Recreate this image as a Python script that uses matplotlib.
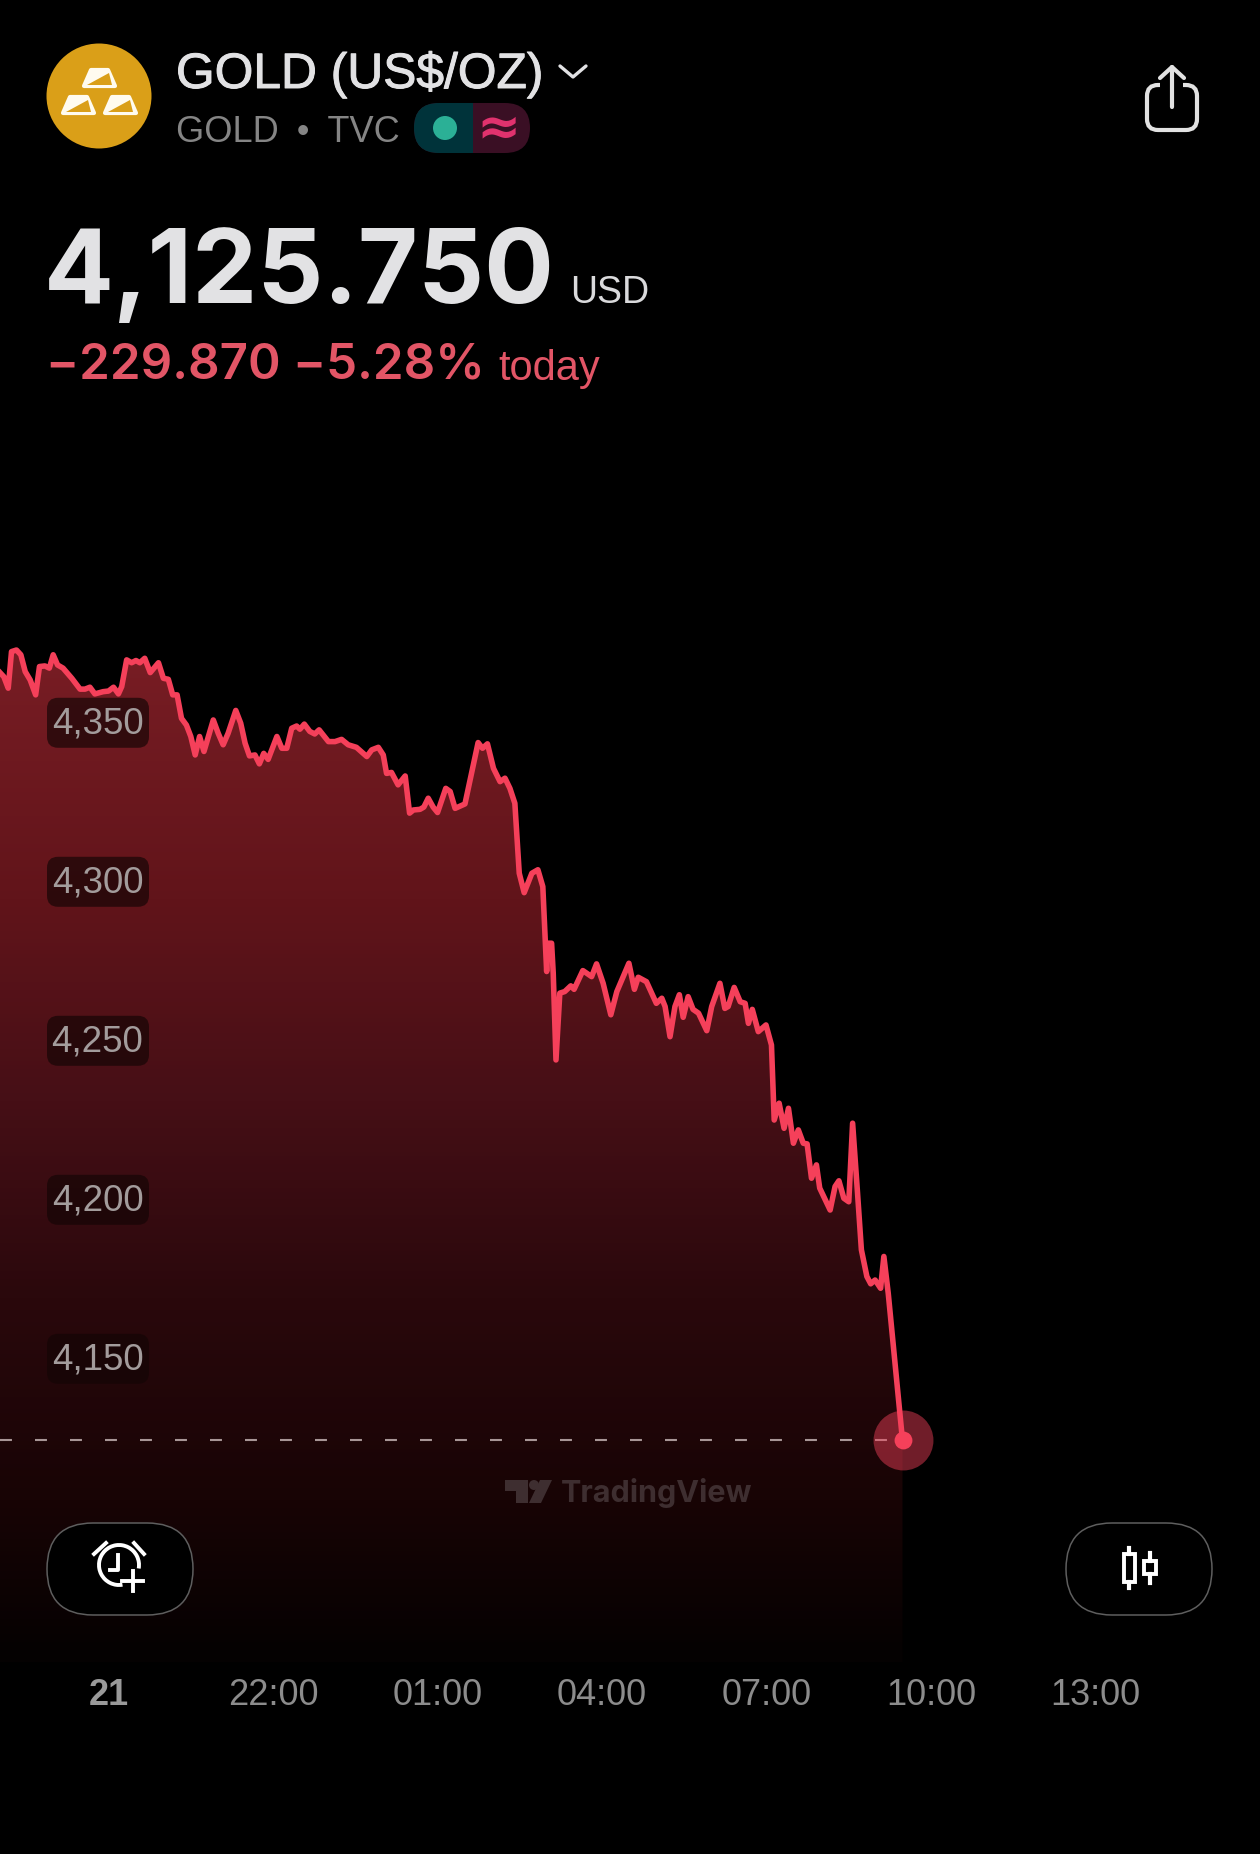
import matplotlib
matplotlib.use('Agg')
import matplotlib.pyplot as plt
import matplotlib.patheffects as pe
import numpy as np
from matplotlib.colors import LinearSegmentedColormap
from matplotlib.patches import Circle, FancyBboxPatch, Polygon, Arc, Rectangle
from matplotlib.transforms import blended_transform_factory

plt.rcParams['lines.scale_dashes'] = False

# hours after 00:00 on the 21st (25 = 01:00 next day)
hours = [17.02, 17.09, 17.17, 17.23, 17.32, 17.40, 17.48, 17.57, 17.67, 17.74, 17.84, 17.92, 17.99, 18.07, 18.17,
         18.33, 18.48, 18.57, 18.66, 18.75, 18.90, 19.00, 19.09, 19.18, 19.24, 19.33, 19.42, 19.50, 19.57, 19.66,
         19.76, 19.91, 20.00, 20.09, 20.17, 20.25, 20.33, 20.42, 20.50, 20.58, 20.66, 20.74, 20.82, 20.91, 21.00,
         21.09, 21.18, 21.32, 21.41, 21.49, 21.57, 21.67, 21.75, 21.83, 21.91, 22.07, 22.16, 22.25, 22.34, 22.43,
         22.49, 22.57, 22.67, 22.76, 22.84, 23.01, 23.13, 23.25, 23.37, 23.52, 23.71, 23.80, 23.92, 24.01, 24.07,
         24.16, 24.28, 24.41, 24.49, 24.56, 24.68, 24.75, 24.83, 24.92, 25.00, 25.15, 25.23, 25.32, 25.50, 25.74,
         25.82, 25.91, 26.02, 26.14, 26.23, 26.32, 26.41, 26.49, 26.58, 26.72, 26.83, 26.92, 26.99, 27.01, 27.08,
         27.11, 27.16, 27.23, 27.32, 27.43, 27.49, 27.65, 27.81, 27.90, 28.02, 28.16, 28.27, 28.49, 28.59, 28.66,
         28.81, 28.99, 29.09, 29.15, 29.24, 29.33, 29.41, 29.48, 29.57, 29.66, 29.76, 29.91, 30.00, 30.15, 30.24,
         30.30, 30.41, 30.52, 30.61, 30.67, 30.74, 30.85, 30.99, 31.09, 31.14, 31.23, 31.32, 31.40, 31.49, 31.58,
         31.67, 31.74, 31.82, 31.91, 31.97, 32.16, 32.25, 32.32, 32.41, 32.50, 32.57, 32.66, 32.73, 32.83, 32.90,
         32.98, 33.08, 33.14, 33.22, 33.48]
prices = [4367.2, 4365.9, 4362.3, 4373.8, 4374.3, 4372.8, 4367.5, 4364.9, 4360.2, 4369.1, 4369.3, 4368.6, 4372.8, 4369.6, 4368.6,
          4365.4, 4362.0, 4362.0, 4362.6, 4360.5, 4361.2, 4361.4, 4362.6, 4360.5, 4362.8, 4371.2, 4370.3, 4371.0, 4370.3, 4371.7,
          4367.2, 4370.3, 4365.4, 4365.1, 4360.2, 4360.2, 4352.8, 4350.7, 4347.1, 4341.3, 4347.1, 4342.4, 4347.1, 4352.3, 4348.1,
          4344.5, 4348.1, 4355.3, 4351.3, 4345.0, 4341.0, 4341.3, 4338.5, 4341.8, 4339.9, 4347.1, 4343.4, 4343.4, 4349.7, 4350.4,
          4349.4, 4351.0, 4348.7, 4347.9, 4349.2, 4345.5, 4345.5, 4346.2, 4344.5, 4343.7, 4340.8, 4342.9, 4343.7, 4341.3, 4335.5,
          4335.8, 4331.9, 4334.7, 4323.0, 4324.0, 4324.2, 4324.9, 4327.7, 4324.9, 4323.2, 4330.8, 4329.8, 4324.5, 4325.9, 4345.2,
          4343.4, 4344.8, 4337.1, 4332.9, 4334.0, 4330.8, 4326.1, 4304.1, 4298.0, 4304.1, 4305.2, 4299.9, 4273.2, 4282.1, 4282.1,
          4272.7, 4245.4, 4266.4, 4266.9, 4268.7, 4267.6, 4273.5, 4271.6, 4275.6, 4269.5, 4259.6, 4266.9, 4275.8, 4267.6, 4271.4,
          4270.0, 4263.2, 4264.8, 4262.2, 4252.7, 4262.2, 4265.9, 4258.8, 4265.3, 4261.3, 4260.1, 4254.6, 4262.2, 4269.5, 4261.6,
          4262.2, 4268.2, 4263.7, 4263.2, 4256.9, 4261.3, 4254.3, 4256.4, 4250.1, 4226.5, 4231.8, 4223.9, 4230.2, 4219.2, 4223.4,
          4219.2, 4219.0, 4208.2, 4212.4, 4205.1, 4198.2, 4205.6, 4207.4, 4201.9, 4200.8, 4225.5, 4203.5, 4185.7, 4177.3, 4175.0,
          4176.2, 4173.6, 4183.6, 4172.0, 4125.75]

y_ticks = [4350, 4300, 4250, 4200, 4150]
x_ticks = [19, 22, 25, 28, 31, 34, 37]
x_labels = ['21', '22:00', '01:00', '04:00', '07:00', '10:00', '13:00']

title = 'GOLD (US$/OZ)'
subtitle = 'GOLD\u2002•\u2002TVC'
last_price = '4,125.750'
change = '\u2212229.870 \u22125.28%'

RED = '#F5405A'
GOLD = '#DA9F18'

fig = plt.figure(figsize=(12.6, 18.54), dpi=100, facecolor='black')

# chart fills the whole figure, limits picked so the axis lines up with the screenshot
ax = fig.add_axes([0, 0, 1, 1])
ax.set_xlim(17.02, 40.0)
ax.set_ylim(3995.7, 4578.7)
ax.axis('off')

# ui layer in pixels, y going down
ui = fig.add_axes([0, 0, 1, 1], zorder=5)
ui.set_xlim(0, 1260)
ui.set_ylim(1854, 0)
ui.axis('off')
ui.patch.set_alpha(0)

# gradient under the line
base = 4056.0
fill = ax.fill_between(hours, prices, base, color='none', lw=0)
stops = [(0, (120, 29, 36)), (0.247, (97, 20, 26)), (0.445, (70, 15, 22)),
         (0.642, (42, 8, 12)), (0.84, (24, 4, 5)), (1, (4, 1, 1))]
cmap = LinearSegmentedColormap.from_list('fade', [(p, tuple(v / 255 for v in c)) for p, c in stops])
grad = np.linspace(0, 1, 256).reshape(-1, 1)
im = ax.imshow(grad, cmap=cmap, aspect='auto', origin='upper', zorder=1,
               extent=[17.02, hours[-1], base, 4374.0])
im.set_clip_path(fill.get_paths()[0], ax.transData)
ax.set_xlim(17.02, 40.0)
ax.set_ylim(3995.7, 4578.7)

ax.plot(hours, prices, color=RED, lw=4.0, solid_joinstyle='round', zorder=3)

# last price line and marker
ax.plot([17.02, hours[-1]], [prices[-1], prices[-1]], color='#A89696', lw=1.5,
        ls=(0, (8.6, 16.6)), zorder=2)
ax.scatter(hours[-1], prices[-1], s=1860, color=RED, alpha=0.46, lw=0, zorder=4)
ax.scatter(hours[-1], prices[-1], s=165, color=RED, lw=0, zorder=5)

# price labels, box drawn on the ui layer so its corners stay round
trans = blended_transform_factory(ui.transData, ax.transData)
to_ui = ui.transData.inverted()
for v in y_ticks:
    py = to_ui.transform(ax.transData.transform((20, v)))[1]
    ui.add_patch(FancyBboxPatch((47, py - 29.5), 102, 50, boxstyle='round,pad=0,rounding_size=11',
                                fc='#140505', ec='none', alpha=0.68))
    ui.annotate(f'{v:,}', xy=(97.5, v), xycoords=trans, xytext=(0, 2.6), textcoords='offset points',
                ha='center', va='center', fontsize=26.5, color='#A39C9C', family='Liberation Sans')

# time labels
trans2 = blended_transform_factory(ax.transData, ui.transData)
for h, lab in zip(x_ticks, x_labels):
    bold = lab == '21'
    ax.text(h, 1705, lab, transform=trans2, ha='center', va='baseline', fontsize=26,
            family='Liberation Sans', color='#9A9A9A' if bold else '#8C8C8C',
            fontweight='bold' if bold else 'normal')

# header
ui.add_patch(Circle((99, 96), 52.5, fc=GOLD, ec='none'))
for x0, y0 in [(82, 68), (61, 95), (103, 95)]:
    ui.add_patch(Polygon([(x0 + 9, y0 + 2), (x0 + 26, y0 + 2), (x0 + 33, y0 + 18), (x0 + 2, y0 + 18)],
                         fc='#FFFBEF', ec='#FFFBEF', lw=3, joinstyle='round'))
    ui.add_patch(Polygon([(x0 + 5, y0 + 17), (x0 + 27, y0 + 5), (x0 + 30, y0 + 17)], fc=GOLD, ec='none'))

ui.text(176, 88, title, fontsize=35.8, color='#E2E2E4', family='Liberation Sans', va='baseline',
        path_effects=[pe.withStroke(linewidth=0.7, foreground='#E2E2E4')])
ui.plot([560, 573, 586], [66, 77, 66], color='#E2E2E4', lw=2.4, solid_capstyle='round', solid_joinstyle='round')
ui.text(176, 142, subtitle, fontsize=26, color='#858585', family='Liberation Sans', va='baseline')

ui.add_patch(FancyBboxPatch((414, 103), 116, 50, boxstyle='round,pad=0,rounding_size=25', fc='#3A0F24', ec='none'))
left = FancyBboxPatch((414, 103), 116, 50, boxstyle='round,pad=0,rounding_size=25', fc='#00333A', ec='none')
ui.add_patch(left)
left.set_clip_path(Rectangle((414, 100), 59, 56, transform=ui.transData))
ui.add_patch(Circle((445, 128), 12, fc='#2BB096', ec='none'))
ui.text(499, 128, '\u2248', fontsize=38, color='#E0326E', ha='center', va='center', family='DejaVu Sans', fontweight='bold')

ui.text(44, 303, last_price, fontsize=74.5, color='#E2E2E4', family='Inter', fontweight='bold', va='baseline')
ui.text(570, 303, 'USD', fontsize=27, color='#DADADC', family='Liberation Sans', va='baseline')
ui.text(46, 378, change, fontsize=35.5, color='#E25566', family='Inter', fontweight='semibold', va='baseline')
ui.text(498, 380, 'today', fontsize=30, color='#E25566', family='Liberation Sans', va='baseline')

# share icon
c = '#E2E2E2'
ui.add_patch(FancyBboxPatch((1147, 85), 50, 45, boxstyle='round,pad=0,rounding_size=11', fc='black', ec=c, lw=3))
ui.add_patch(Rectangle((1160, 80), 23, 10, fc='black', ec='none', zorder=3))
ui.plot([1172, 1172], [67, 107], color=c, lw=3, solid_capstyle='round', zorder=4)
ui.plot([1160, 1172, 1184], [78, 67, 78], color=c, lw=3, solid_capstyle='round', solid_joinstyle='round', zorder=4)

# watermark
wm = '#3E2E30'
ui.add_patch(Polygon([(505, 1480), (528, 1480), (528, 1503), (516, 1503), (516, 1491), (505, 1491)], fc=wm, ec='none'))
ui.add_patch(Circle((534, 1485), 5, fc=wm, ec='none'))
ui.add_patch(Polygon([(540, 1480), (552, 1480), (541, 1503), (529, 1503)], fc=wm, ec='none'))
ui.text(561, 1502, 'TradingView', fontsize=22, color=wm, family='Inter', fontweight='bold', va='baseline')

# buttons
for x0 in [47, 1066]:
    ui.add_patch(FancyBboxPatch((x0, 1523), 146, 92, boxstyle='round,pad=0,rounding_size=46',
                                fc='black', ec='#5E5E5E', lw=1.1))

ui.add_patch(Arc((119, 1565), 40, 40, theta1=80, theta2=10, ec='white', lw=2.8))
ui.plot([118, 118, 110], [1555, 1570, 1570], color='white', lw=2.8)
ui.plot([94, 106], [1554, 1543], color='white', lw=2.8)
ui.plot([134, 144], [1543, 1554], color='white', lw=2.8)
ui.plot([122, 143], [1581, 1581], color='white', lw=2.8)
ui.plot([133, 133], [1571, 1591], color='white', lw=2.8)

for xc, y0, y1, w0, w1, w in [(1129, 1554, 1582, 1548, 1588, 11), (1150, 1561, 1574, 1553, 1583, 12)]:
    ui.plot([xc, xc], [w0, y0], color='white', lw=3)
    ui.plot([xc, xc], [y1, w1], color='white', lw=3)
    ui.add_patch(Rectangle((xc - w / 2, y0), w, y1 - y0, fc='black', ec='white', lw=2.8))

fig.savefig('out.png', dpi=100, facecolor='black')
